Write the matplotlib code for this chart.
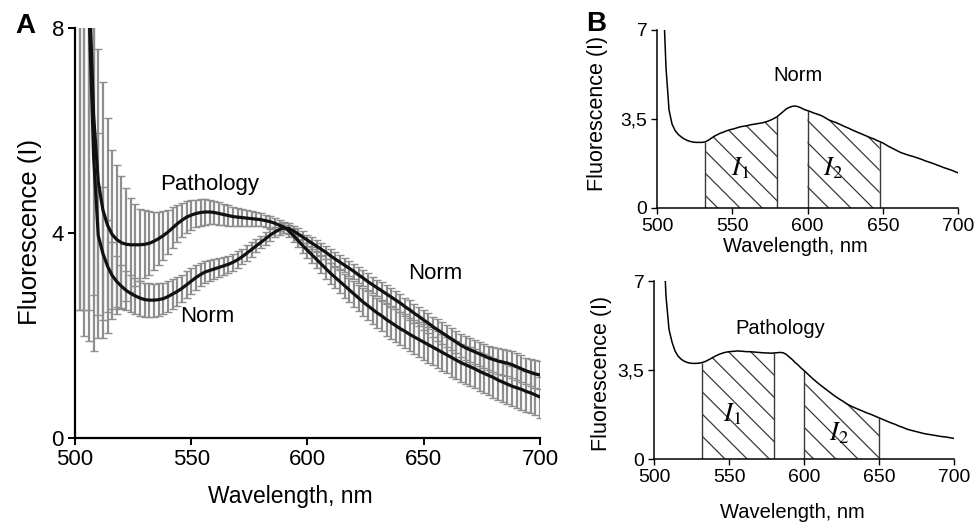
import numpy as np
import matplotlib
matplotlib.use("Agg")
import matplotlib.pyplot as plt
from matplotlib.ticker import FixedLocator, FixedFormatter

DPI = 133
S = 100.0 / DPI  # keeps sizes as if drawn at 100 dpi

plt.rcParams['font.family'] = ['Liberation Sans', 'DejaVu Sans']
plt.rcParams['hatch.linewidth'] = 0.9 * S

# ---------------- Panel A data (mean +/- error, 2 nm step) ----------------
wl_a = list(range(502, 701, 2))

norm_mean = [13.0, 11.0, 8.4, 5.5, 3.95, 3.6, 3.35, 3.17, 3.05, 2.96,
             2.88, 2.82, 2.77, 2.73, 2.70, 2.69, 2.69, 2.70, 2.72, 2.76,
             2.81, 2.86, 2.92, 2.99, 3.06, 3.13, 3.19, 3.24, 3.27, 3.30,
             3.33, 3.36, 3.39, 3.43, 3.48, 3.54, 3.61, 3.68, 3.75, 3.82,
             3.89, 3.96, 4.02, 4.07, 4.10, 4.09, 4.04, 3.98, 3.92, 3.86,
             3.80, 3.74, 3.68, 3.62, 3.55, 3.49, 3.43, 3.37, 3.31, 3.25,
             3.18, 3.12, 3.05, 2.99, 2.93, 2.87, 2.81, 2.75, 2.69, 2.63,
             2.56, 2.50, 2.43, 2.37, 2.30, 2.24, 2.17, 2.11, 2.05, 1.99,
             1.93, 1.87, 1.81, 1.76, 1.72, 1.68, 1.64, 1.60, 1.56, 1.53,
             1.50, 1.48, 1.46, 1.43, 1.39, 1.35, 1.31, 1.28, 1.25, 1.23]

norm_err = [10.5, 9.0, 6.5, 3.8, 2.0, 1.3, 0.9, 0.65, 0.5, 0.42,
            0.38, 0.36, 0.35, 0.34, 0.33, 0.33, 0.32, 0.32, 0.31, 0.30,
            0.29, 0.28, 0.27, 0.26, 0.25, 0.24, 0.23, 0.22, 0.21, 0.20,
            0.19, 0.18, 0.17, 0.17, 0.16, 0.15, 0.15, 0.14, 0.13, 0.12,
            0.12, 0.11, 0.10, 0.10, 0.10, 0.10, 0.10, 0.11, 0.11, 0.11,
            0.12, 0.12, 0.12, 0.13, 0.13, 0.13, 0.14, 0.14, 0.14, 0.15,
            0.15, 0.15, 0.16, 0.16, 0.16, 0.17, 0.17, 0.17, 0.18, 0.18,
            0.18, 0.19, 0.19, 0.19, 0.20, 0.20, 0.20, 0.21, 0.21, 0.21,
            0.22, 0.22, 0.22, 0.23, 0.23, 0.23, 0.24, 0.24, 0.24, 0.25,
            0.25, 0.25, 0.25, 0.26, 0.26, 0.26, 0.26, 0.27, 0.27, 0.27]

path_mean = [14.0, 12.0, 9.0, 6.3, 5.0, 4.45, 4.15, 3.97, 3.87, 3.81,
             3.78, 3.77, 3.77, 3.77, 3.78, 3.80, 3.84, 3.89, 3.95, 4.02,
             4.10, 4.18, 4.25, 4.31, 4.35, 4.38, 4.40, 4.41, 4.41, 4.40,
             4.38, 4.36, 4.34, 4.32, 4.31, 4.30, 4.29, 4.28, 4.27, 4.26,
             4.24, 4.22, 4.19, 4.15, 4.11, 4.04, 3.95, 3.85, 3.75, 3.66,
             3.57, 3.48, 3.39, 3.30, 3.21, 3.13, 3.05, 2.97, 2.89, 2.81,
             2.73, 2.65, 2.58, 2.51, 2.44, 2.38, 2.31, 2.25, 2.19, 2.13,
             2.08, 2.02, 1.97, 1.92, 1.87, 1.82, 1.77, 1.72, 1.67, 1.62,
             1.57, 1.52, 1.47, 1.43, 1.39, 1.35, 1.30, 1.26, 1.22, 1.18,
             1.13, 1.09, 1.05, 1.01, 0.98, 0.95, 0.91, 0.88, 0.84, 0.80]

path_err = [11.5, 9.5, 6.5, 3.5, 2.6, 2.5, 2.1, 1.65, 1.45, 1.3,
            1.1, 0.92, 0.8, 0.7, 0.66, 0.62, 0.57, 0.52, 0.47, 0.43,
            0.40, 0.36, 0.33, 0.31, 0.29, 0.27, 0.26, 0.25, 0.24, 0.23,
            0.22, 0.21, 0.20, 0.19, 0.18, 0.17, 0.16, 0.15, 0.14, 0.13,
            0.12, 0.12, 0.11, 0.11, 0.11, 0.12, 0.12, 0.13, 0.14, 0.15,
            0.16, 0.17, 0.18, 0.19, 0.20, 0.21, 0.22, 0.23, 0.24, 0.25,
            0.26, 0.27, 0.28, 0.29, 0.30, 0.30, 0.31, 0.31, 0.32, 0.32,
            0.33, 0.33, 0.34, 0.34, 0.35, 0.35, 0.35, 0.36, 0.36, 0.36,
            0.37, 0.37, 0.37, 0.37, 0.38, 0.38, 0.38, 0.38, 0.38, 0.39,
            0.39, 0.39, 0.39, 0.39, 0.40, 0.40, 0.40, 0.40, 0.40, 0.40]

# ---------------- Panel B data (single spectra, 2 nm step) ----------------
wl_b = list(range(504, 701, 2))

b_norm = [8.5, 5.5, 3.85, 3.30, 3.05, 2.90, 2.80, 2.72, 2.66, 2.62,
          2.59, 2.58, 2.58, 2.58, 2.60, 2.66, 2.74, 2.82, 2.88, 2.94,
          2.98, 3.03, 3.07, 3.10, 3.13, 3.17, 3.20, 3.22, 3.24, 3.27,
          3.29, 3.31, 3.33, 3.35, 3.38, 3.42, 3.47, 3.53, 3.60, 3.70,
          3.80, 3.90, 3.96, 4.00, 4.01, 3.98, 3.93, 3.87, 3.83, 3.79,
          3.74, 3.70, 3.66, 3.61, 3.54, 3.47, 3.42, 3.38, 3.33, 3.28,
          3.22, 3.17, 3.12, 3.06, 3.01, 2.96, 2.91, 2.86, 2.81, 2.76,
          2.72, 2.66, 2.61, 2.56, 2.49, 2.42, 2.36, 2.30, 2.24, 2.18,
          2.14, 2.10, 2.06, 2.03, 1.99, 1.95, 1.91, 1.86, 1.82, 1.78,
          1.74, 1.69, 1.65, 1.60, 1.56, 1.52, 1.48, 1.43, 1.38]

b_path = [12.0, 9.0, 6.4, 5.1, 4.6, 4.25, 4.05, 3.93, 3.85, 3.80,
          3.77, 3.76, 3.76, 3.77, 3.79, 3.83, 3.89, 3.95, 4.02, 4.08,
          4.13, 4.17, 4.20, 4.22, 4.23, 4.24, 4.25, 4.24, 4.23, 4.22,
          4.22, 4.21, 4.20, 4.19, 4.18, 4.17, 4.17, 4.16, 4.17, 4.18,
          4.19, 4.18, 4.12, 4.02, 3.92, 3.80, 3.70, 3.58, 3.48, 3.37,
          3.26, 3.15, 3.05, 2.95, 2.86, 2.77, 2.68, 2.59, 2.50, 2.42,
          2.34, 2.27, 2.19, 2.12, 2.06, 2.01, 1.96, 1.91, 1.86, 1.81,
          1.77, 1.72, 1.67, 1.62, 1.57, 1.52, 1.47, 1.42, 1.38, 1.33,
          1.28, 1.24, 1.19, 1.15, 1.12, 1.09, 1.06, 1.03, 1.00, 0.98,
          0.96, 0.94, 0.92, 0.90, 0.88, 0.87, 0.85, 0.83, 0.81]

i1_norm = (532, 580)
i2_norm = (600, 648)
i1_path = (532, 580)
i2_path = (600, 650)

x_ticks = [500, 550, 600, 650, 700]
a_yticks = [0, 4, 8]
b_yticks = [0, 3.5, 7]
b_yticklabels = ['0', '3,5', '7']

W, H = 978, 524
fig = plt.figure(figsize=(W / DPI, H / DPI), dpi=DPI)


def px_axes(l, r, t, b):
    return fig.add_axes([l / W, 1 - b / H, (r - l) / W, (b - t) / H])


def style(ax, fs, lw, tl, tw):
    for s in ['top', 'right']:
        ax.spines[s].set_visible(False)
    for s in ['left', 'bottom']:
        ax.spines[s].set_linewidth(lw * S)
        ax.spines[s].set_color('black')
    ax.tick_params(direction='out', length=tl * S, width=tw * S,
                   labelsize=fs * S, colors='black', pad=3 * S)


def ftext(x, y, s, fs, **kw):
    fig.text(x / W, 1 - y / H, s, fontsize=fs * S, ha='center', va='center', **kw)


# ---------------- Panel A ----------------
axA = px_axes(75, 540, 28, 438)
for m, e in ((norm_mean, norm_err), (path_mean, path_err)):
    axA.errorbar(wl_a, m, yerr=e, fmt='none', ecolor='#8e8e8e',
                 elinewidth=1.6 * S, capsize=2.6 * S, capthick=1.0 * S)
axA.plot(wl_a, norm_mean, color='#111111', lw=2.3 * S)
axA.plot(wl_a, path_mean, color='#111111', lw=2.3 * S)
axA.set_xlim(500, 700)
axA.set_ylim(0, 8)
axA.xaxis.set_major_locator(FixedLocator(x_ticks))
axA.yaxis.set_major_locator(FixedLocator(a_yticks))
style(axA, 16, 1.6, 5, 1.4)
axA.text(558, 4.94, 'Pathology', fontsize=16 * S, ha='center', va='center')
axA.text(557, 2.37, 'Norm', fontsize=16 * S, ha='center', va='center')
axA.text(655, 3.21, 'Norm', fontsize=16 * S, ha='center', va='center')

ftext(30, 232, 'Fluorescence (I)', 18.5, rotation=90)
ftext(290, 497, 'Wavelength, nm', 16.5)
ftext(25, 26, 'A', 20, fontweight='bold')


def panel_b(l, r, t, b, ys, i1, i2, title, tpos, l1, l2):
    ax = px_axes(l, r, t, b)
    ys_arr = np.array(ys)
    xs = np.array(wl_b)
    for (a0, a1) in (i1, i2):
        m = (xs >= a0) & (xs <= a1)
        ax.fill_between(xs[m], 0, ys_arr[m], facecolor='none',
                        edgecolor='#3a3a3a', hatch='\\\\', linewidth=0)
        ax.vlines([a0, a1], 0, np.interp([a0, a1], xs, ys_arr),
                  color='#3a3a3a', lw=1.0 * S)
    ax.plot(wl_b, ys, color='black', lw=1.1 * S)
    ax.set_xlim(500, 700)
    ax.set_ylim(0, 7)
    ax.xaxis.set_major_locator(FixedLocator(x_ticks))
    ax.yaxis.set_major_locator(FixedLocator(b_yticks))
    ax.yaxis.set_major_formatter(FixedFormatter(b_yticklabels))
    style(ax, 14, 1.1, 4, 1.0)
    ax.text(tpos[0], tpos[1], title, fontsize=14.5 * S, ha='center', va='center')
    ax.text(l1[0], l1[1], '$I_1$', fontsize=19 * S, ha='center', va='center',
            math_fontfamily='stix')
    ax.text(l2[0], l2[1], '$I_2$', fontsize=19 * S, ha='center', va='center',
            math_fontfamily='stix')
    return ax


panel_b(657, 958, 30, 208, b_norm, i1_norm, i2_norm, 'Norm', (594, 5.23),
        (555, 1.55), (617, 1.55))
panel_b(654, 954, 281, 459, b_path, i1_path, i2_path, 'Pathology',
        (584, 5.14), (552, 1.78), (623, 1.0))

ftext(598, 113, 'Fluorescence (I)', 15.5, rotation=90)
ftext(795, 246, 'Wavelength, nm', 14.5)
ftext(602, 373, 'Fluorescence (I)', 15.5, rotation=90)
ftext(792, 513, 'Wavelength, nm', 14.5)
ftext(596, 24, 'B', 20, fontweight='bold')

fig.savefig('out.png', dpi=DPI)
